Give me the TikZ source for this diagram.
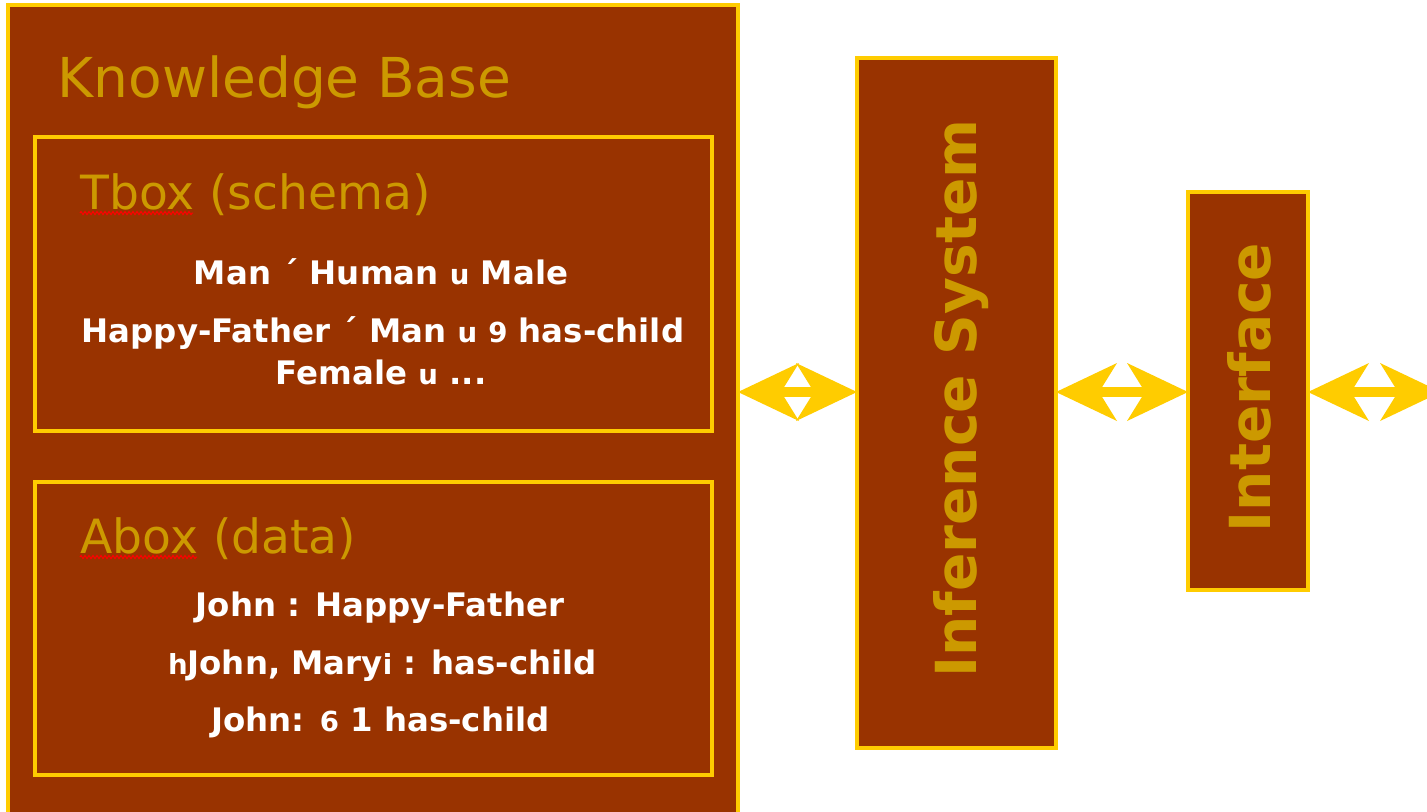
\documentclass[tikz,border=0pt]{standalone}
\usepackage{fontspec}
\setmainfont{DejaVu Sans}
\usetikzlibrary{arrows.meta,decorations.pathmorphing}
\definecolor{kbfill}{HTML}{993300}
\definecolor{kbline}{HTML}{FFCC00}
\definecolor{kbtitle}{HTML}{CC9900}
% smaller glyphs standing for the logic symbols
\newcommand{\symsm}[1]{{\fontsize{13.8}{15}\selectfont #1}}

\begin{document}
\begin{tikzpicture}[x=0.5pt,y=-0.5pt,
  panel/.style={rectangle, draw=kbline, fill=kbfill, line width=1.8pt, inner sep=0pt, outer sep=0pt},
  title/.style={text=kbtitle, anchor=base west, inner sep=0pt, font=\fontsize{23.6}{28}\selectfont},
  rule/.style={text=white, anchor=base, inner sep=0pt, font=\bfseries\fontsize{16.2}{19}\selectfont},
  vtitle/.style={text=kbtitle, anchor=base, rotate=90, inner sep=0pt, font=\bfseries\fontsize{28.3}{32}\selectfont},
  link/.style={draw=kbline, line width=5pt,
    {Stealth[length=30.5pt,width=29pt,inset=9pt,line width=0pt]}-{Stealth[length=30.5pt,width=29pt,inset=9pt,line width=0pt]}},
  spell/.style={draw=red, line width=0.5pt, decorate, decoration={zigzag, segment length=2pt, amplitude=0.8pt}}
]
\useasboundingbox (0,0) rectangle (1427,811);
\fill[white] (0,0) rectangle (1427,811);
\clip (0,0) rectangle (1427,811);

% knowledge base with its two boxes
\node[panel, minimum width=365pt, minimum height=412.5pt] (kb) at (373,417.5) {};
\node[title, font=\fontsize{27.5}{32}\selectfont] (kbname) at (57,97) {Knowledge Base};

\node[panel, minimum width=338.5pt, minimum height=147pt] (tbox) at (373.5,284) {};
\node[title] (tname) at (80,209) {Tbox (schema)};
\draw[spell] (80,213) -- (193,213);
\node[rule] (t1) at (381,284) {Man ´ Human \symsm{u} Male};
\node[rule] (t2) at (383,342) {Happy-Father ´ Man \symsm{u} \symsm{9} has-child};
\node[rule] (t3) at (381,384) {Female \symsm{u} ...};

\node[panel, minimum width=338.5pt, minimum height=146.5pt] (abox) at (373.5,628.5) {};
\node[title] (aname) at (80,553) {Abox (data)};
\draw[spell] (80,557) -- (197,557);
\node[rule] (a1) at (380,616) {John : Happy-Father};
\node[rule] (a2) at (382.5,674) {\symsm{h}John, Mary\symsm{i} : has-child};
\node[rule] (a3) at (380.5,731) {John: \symsm{6} 1 has-child};

% inference system and interface
\node[panel, minimum width=99.5pt, minimum height=345pt] (inf) at (956.5,403) {};
\node[vtitle] (infname) at (976,398.5) {Inference System};

\node[panel, minimum width=60pt, minimum height=199pt] (ui) at (1248,391) {};
\node[vtitle] (uiname) at (1270,387.5) {Interface};

% two-way links
\coordinate (axis) at (0,392);
\coordinate (outside) at (1441,392);
\draw[link] (kb.east |- axis) -- (inf.west |- axis);
\draw[link] (inf.east |- axis) -- (ui.west |- axis);
\draw[link] (ui.east |- axis) -- (outside);
\end{tikzpicture}
\end{document}
